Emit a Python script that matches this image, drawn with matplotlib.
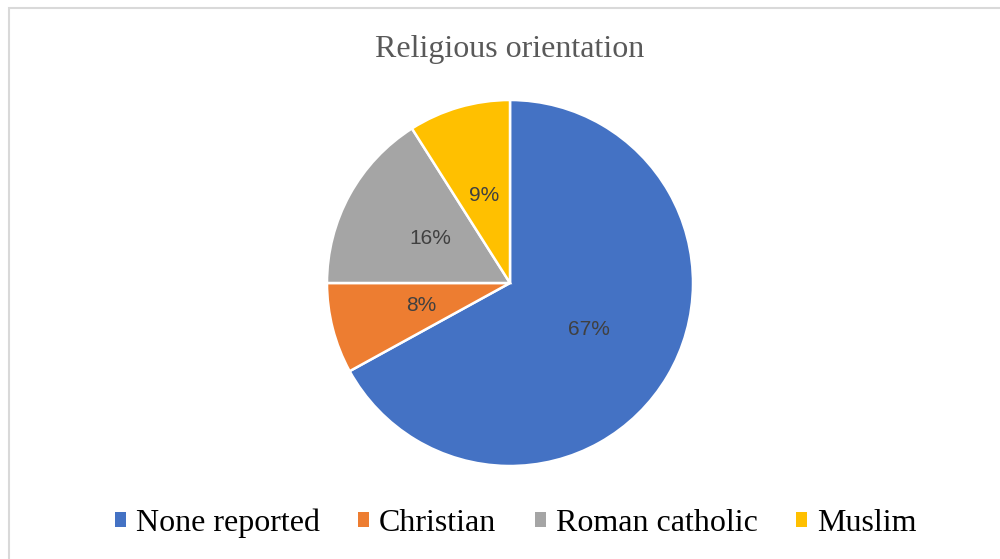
import matplotlib.pyplot as plt
from matplotlib.patches import Patch, Rectangle

labels = ['None reported', 'Christian', 'Roman catholic', 'Muslim']
values = [67, 8, 16, 9]
colors = ['#4472C4', '#ED7D31', '#A5A5A5', '#FFC000']

fig = plt.figure(figsize=(10, 5.59), dpi=100)
fig.patches.append(Rectangle((0.009, -0.1), 1.5, 1.1 - 0.0143, transform=fig.transFigure,
                             fill=False, edgecolor='#D9D9D9', linewidth=1.5))

# pie centre ~(510, 283) px, radius ~183 px
r = 183
ax = fig.add_axes([(510 - r) / 1000, (559 - 283 - r) / 559, 2 * r / 1000, 2 * r / 559])
wedges, texts, autotexts = ax.pie(values, colors=colors, startangle=90, counterclock=False,
                                  autopct='%1.0f%%', pctdistance=0.5,
                                  wedgeprops=dict(edgecolor='white', linewidth=1.8),
                                  textprops=dict(family='Liberation Sans', fontsize=15, color='#404040'))
ax.set_xlim(-1, 1)
ax.set_ylim(-1, 1)
ax.set_aspect('equal')
ax.axis('off')

fig.text(0.51, 1 - 50 / 559, 'Religious orientation', ha='center', va='center',
         family='Liberation Serif', fontsize=23, color='#595959')

handles = [Patch(facecolor=c, edgecolor='none') for c in colors]
fig.legend(handles, labels, loc='center', bbox_to_anchor=(0.5155, 1 - 523 / 559), ncol=4,
           frameon=False, prop=dict(family='Liberation Serif', size=23),
           handlelength=0.36, handleheight=0.36, handletextpad=0.3, columnspacing=1.2)

plt.savefig('out.png')
